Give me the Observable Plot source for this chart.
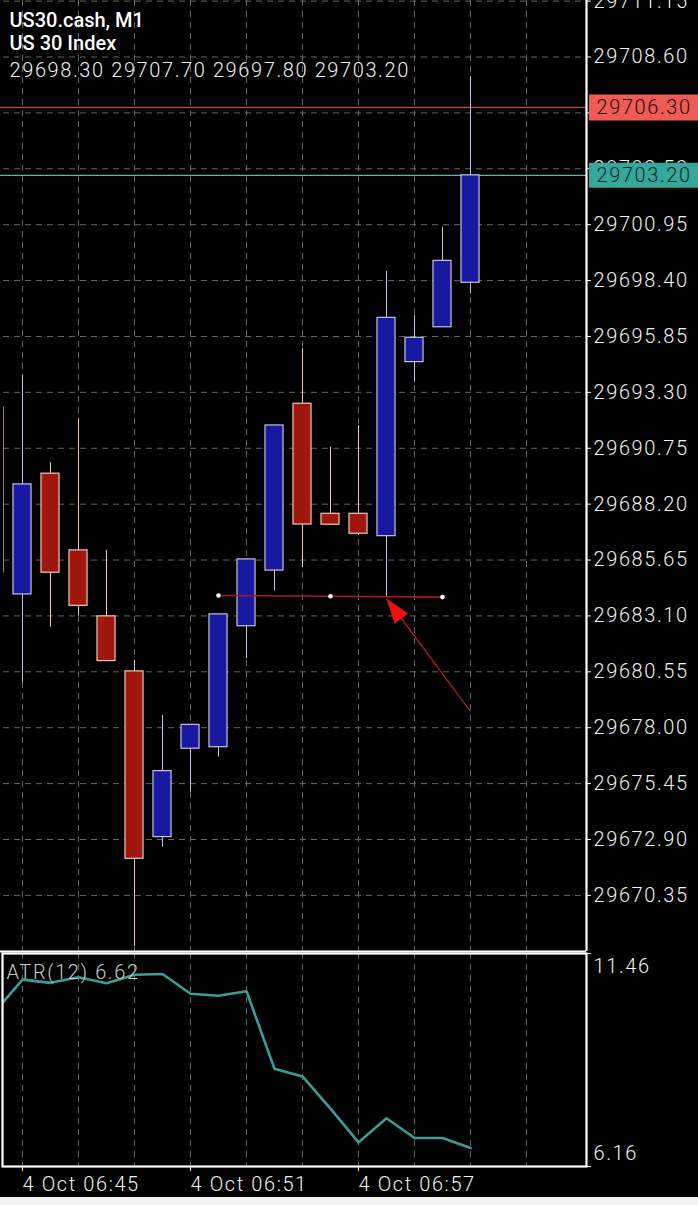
<!DOCTYPE html>
<html><head><meta charset="utf-8">
<script src="https://cdn.jsdelivr.net/npm/d3@7"></script>
<script src="https://cdn.jsdelivr.net/npm/@observablehq/plot@0.6"></script>
<style>
html,body{margin:0;padding:0;background:#f4f4f4;}
#chart{width:698px;height:1197px;background:#000;overflow:hidden;position:relative;}
#chart svg{display:block;}
</style></head><body><div id="chart"></div>
<script>
// ---- data ----
const symbolName = "US30.cash, M1";
const symbolDesc = "US 30 Index";
const times  = ["06:44","06:45","06:46","06:47","06:48","06:49","06:50","06:51","06:52","06:53","06:54","06:55","06:56","06:57","06:58","06:59","07:00","07:01"];
const opens  = [29692.61,29684.08,29689.59,29686.09,29683.08,29680.57,29673.01,29677.04,29677.11,29682.63,29685.17,29692.78,29687.76,29687.76,29686.74,29694.68,29696.27,29698.30];
const highs  = [29694.00,29694.07,29690.09,29692.09,29686.09,29681.07,29678.56,29678.13,29683.17,29685.68,29691.79,29695.29,29690.80,29691.79,29698.81,29696.81,29700.84,29707.70];
const lows   = [29684.00,29680.08,29682.59,29683.09,29681.04,29668.02,29672.55,29675.06,29676.66,29681.14,29684.26,29685.30,29687.26,29686.77,29683.96,29693.76,29696.27,29697.80];
const closes = [29685.08,29689.10,29685.07,29683.56,29681.04,29672.02,29676.02,29678.13,29683.17,29685.68,29691.79,29687.27,29687.26,29686.85,29696.70,29695.79,29699.30,29703.20];
const atrValues = [10.00,10.81,10.73,10.87,10.72,10.93,10.95,10.46,10.41,10.52,8.59,8.40,7.60,6.76,7.36,6.87,6.87,6.62];
const atrPeriod = 12;
const priceTicks = [29711.15,29708.60,29706.05,29703.50,29700.95,29698.40,29695.85,29693.30,29690.75,29688.20,29685.65,29683.10,29680.55,29678.00,29675.45,29672.90,29670.35];
const atrTicks = [6.16, 11.46];
const timeTicks = ["06:45","06:51","06:57"];
const gridTimes = ["06:45","06:47","06:49","06:51","06:53","06:55","06:57","06:59","07:01","07:03"];
const dateLabel = "4 Oct";
const askPrice = 29706.30;
const bidPrice = 29703.20;
const trendTimes = ["06:52","06:56","07:00"];
const trendPrices = [29684.03, 29684.00, 29683.96];
const arrowTimes = ["07:01","06:58"];
const arrowPrices = [29678.74, 29683.90];

// ---- helpers ----
const toMin = s => { const [h, m] = s.split(":").map(Number); return h * 60 + m - (6 * 60 + 45); };
const xDomain = [-0.679, 20.143];
const yDomain = [29667.79, 29711.178];

const candles = times.map((t, i) => ({t: toMin(t), o: opens[i], h: highs[i], l: lows[i], c: closes[i], up: closes[i] >= opens[i]}));
const atrData = times.map((t, i) => ({t: toMin(t), v: atrValues[i]}));
const trend = trendTimes.map((t, i) => ({t: toMin(t), p: trendPrices[i]}));
const arrow = [{t1: toMin(arrowTimes[0]), p1: arrowPrices[0], t2: toMin(arrowTimes[1]), p2: arrowPrices[1]}];
const last = candles[candles.length - 1];
const ohlcText = [last.o, last.h, last.l, last.c].map(v => v.toFixed(2)).join(" ");

const bullFill = "#1818a0", bearFill = "#a0160c";
const bullLine = "#c4c4e0", bearLine = "#f0c8bc";
const gridStyle = {stroke: "#666", strokeOpacity: 1, strokeDasharray: "6,5", strokeWidth: 1};
const headSymbol = {draw(ctx) { ctx.moveTo(0, 0); ctx.lineTo(-8.5, 25); ctx.lineTo(8.5, 25); ctx.closePath(); }};
const svgStyle = "background:#000;color:#fff;font-family:Roboto,sans-serif;font-size:20px;letter-spacing:1.6px;overflow:visible;";

const main = Plot.plot({
  width: 698, height: 952, marginLeft: 3, marginRight: 112, marginTop: 0, marginBottom: 1,
  style: svgStyle,
  x: {type: "linear", domain: xDomain, axis: null},
  y: {domain: yDomain, axis: null},
  marks: [
    Plot.gridX(gridTimes.map(toMin), gridStyle),
    Plot.gridY(priceTicks, gridStyle),
    Plot.ruleY([askPrice], {stroke: "#c04848", strokeWidth: 1.2, insetLeft: -3}),
    Plot.ruleY([bidPrice], {stroke: "#6ab0a8", strokeWidth: 1.2, insetLeft: -3}),
    Plot.ruleX(candles, {x: "t", y1: "l", y2: "h", stroke: d => d.up ? bullLine : bearLine, strokeWidth: 1, clip: true}),
    Plot.rect(candles, {x1: d => d.t - 0.5, x2: d => d.t + 0.5, y1: "o", y2: "c", insetLeft: 5, insetRight: 5, clip: true,
      fill: d => d.up ? bullFill : bearFill, stroke: d => d.up ? bullLine : bearLine, strokeWidth: 1.2}),
    Plot.line(trend, {x: "t", y: "p", stroke: "#a81818", strokeWidth: 1.6}),
    Plot.dot(trend, {x: "t", y: "p", r: 2.3, fill: "#fff", stroke: "none"}),
    Plot.link(arrow, {x1: "t1", y1: "p1", x2: "t2", y2: "p2", stroke: "#c82020", strokeWidth: 1.2}),
    Plot.dot(arrow, {x: "t2", y: "p2", symbol: headSymbol, rotate: -36.5, fill: "#ee1010", stroke: "none"}),
    Plot.ruleX([xDomain[1]], {stroke: "#fff", strokeWidth: 2.2}),
    Plot.ruleY([yDomain[0]], {stroke: "#fff", strokeWidth: 2.2, insetLeft: -3}),
    Plot.axisY(priceTicks, {anchor: "right", tickSize: 4, tickPadding: 3, tickFormat: d => d.toFixed(2), stroke: "#fff", fill: "#f2f2f2", fontSize: 20, fontWeight: 300, label: null}),
    Plot.ruleY([askPrice], {stroke: "#ef5b55", strokeWidth: 26, insetLeft: 586, insetRight: -112}),
    Plot.text([askPrice], {y: d => d, text: d => d.toFixed(2), frameAnchor: "right", dx: 10, textAnchor: "start", fill: "#2a0808", fontSize: 20, fontWeight: 300}),
    Plot.ruleY([bidPrice], {stroke: "#34a89c", strokeWidth: 25, insetLeft: 586, insetRight: -112}),
    Plot.text([bidPrice], {y: d => d, text: d => d.toFixed(2), frameAnchor: "right", dx: 10, textAnchor: "start", fill: "#0a2624", fontSize: 20, fontWeight: 300}),
    Plot.text([symbolName], {text: d => d, frameAnchor: "top-left", dx: 6, dy: 20, lineAnchor: "middle", fill: "#fff", fontSize: 20, fontWeight: 500}),
    Plot.text([symbolDesc], {text: d => d, frameAnchor: "top-left", dx: 6, dy: 43.5, lineAnchor: "middle", fill: "#fff", fontSize: 20, fontWeight: 500}),
    Plot.text([ohlcText], {text: d => d, frameAnchor: "top-left", dx: 6, dy: 70, lineAnchor: "middle", fill: "#f2f2f2", fontSize: 20, fontWeight: 300})
  ]
});

const atrPlot = Plot.plot({
  width: 698, height: 245, marginLeft: 3, marginRight: 112, marginTop: 1, marginBottom: 31,
  style: svgStyle,
  x: {type: "linear", domain: xDomain, axis: null},
  y: {domain: atrTicks, axis: null},
  marks: [
    Plot.gridX(gridTimes.map(toMin), gridStyle),
    Plot.line(atrData, {x: "t", y: "v", stroke: "#3a9e97", strokeWidth: 2.6, clip: true}),
    Plot.frame({stroke: "#fff", strokeWidth: 2.2, insetLeft: -1}),
    Plot.axisY(atrTicks, {anchor: "right", tickSize: 4, tickFormat: () => "", stroke: "#fff", label: null}),
    Plot.text([atrTicks[1]], {y: d => d, text: d => d.toFixed(2), frameAnchor: "right", dx: 7, dy: 13, textAnchor: "start", lineAnchor: "middle", fill: "#f2f2f2", fontSize: 20, fontWeight: 300}),
    Plot.text([atrTicks[0]], {y: d => d, text: d => d.toFixed(2), frameAnchor: "right", dx: 7, dy: -13, textAnchor: "start", lineAnchor: "middle", fill: "#f2f2f2", fontSize: 20, fontWeight: 300}),
    Plot.axisX(timeTicks.map(toMin), {anchor: "bottom", tickSize: 5, tickPadding: 5, textAnchor: "start", dx: 0, stroke: "#fff", fill: "#f2f2f2", fontSize: 20, fontWeight: 300, label: null,
      tickFormat: d => dateLabel + " " + timeTicks[timeTicks.map(toMin).indexOf(d)]}),
    Plot.text([`ATR(${atrPeriod}) ${atrValues[atrValues.length - 1].toFixed(2)}`], {text: d => d, frameAnchor: "top-left", dx: 3, dy: 19, lineAnchor: "middle", fill: "#c8c8c8", fontSize: 20, fontWeight: 300})
  ]
});

// titles are set tighter than the numeric labels
d3.select(main).selectAll("text")
  .filter(function () { return this.textContent === symbolName || this.textContent === symbolDesc; })
  .style("letter-spacing", "0px");

const el = document.getElementById("chart");
el.appendChild(main);
el.appendChild(atrPlot);
</script></body></html>
